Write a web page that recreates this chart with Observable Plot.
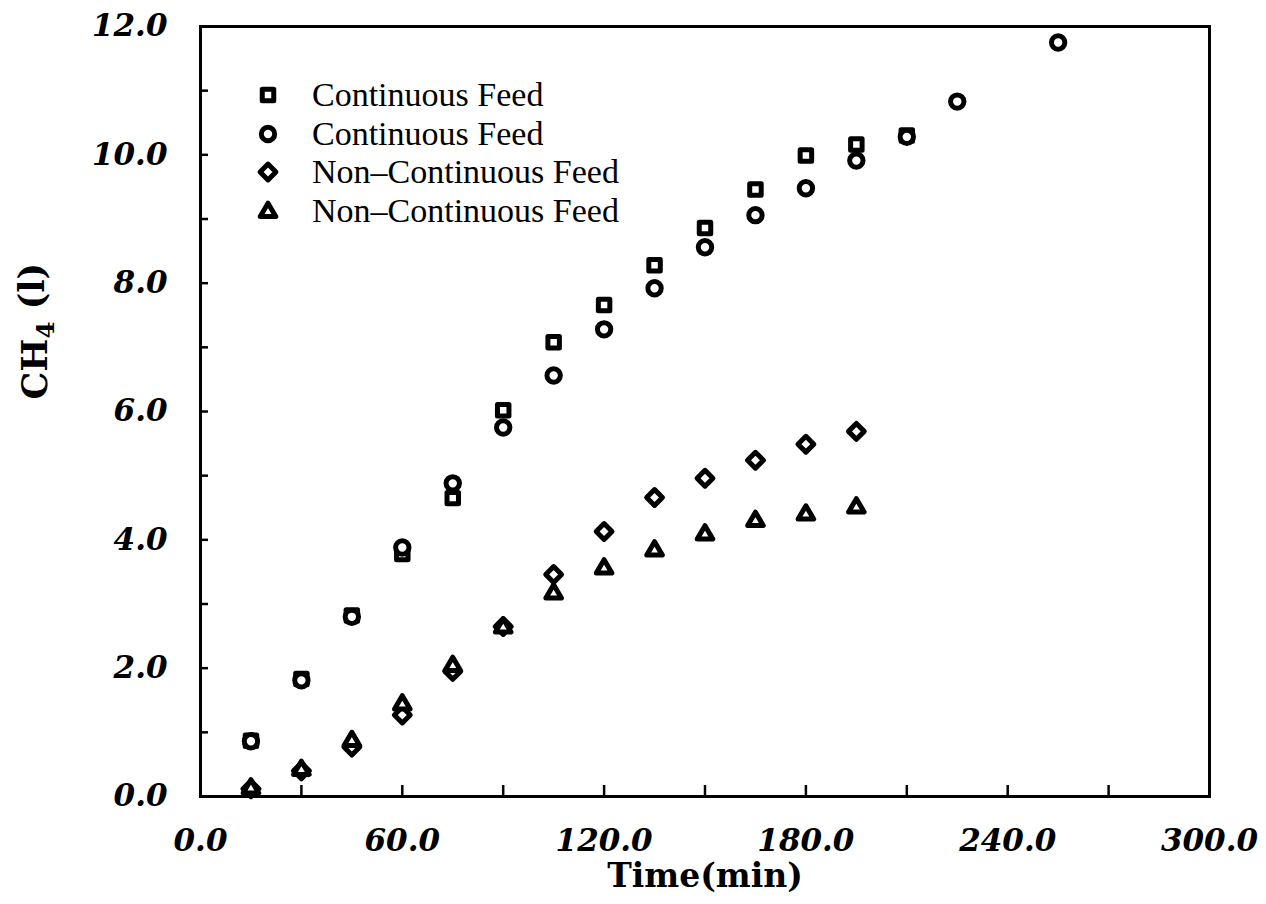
<!DOCTYPE html>
<html><head><meta charset="utf-8">
<script src="https://cdn.jsdelivr.net/npm/d3@7"></script>
<script src="https://cdn.jsdelivr.net/npm/@observablehq/plot@0.6"></script>
<style>
body{margin:0;background:#fff;}
#wrap{position:relative;width:1266px;height:904px;background:#fff;}
#legend{position:absolute;left:252px;top:76px;font-family:"Liberation Serif","Times New Roman",serif;font-size:34px;color:#000;line-height:1;}
.row{display:flex;align-items:center;height:38.5px;white-space:nowrap;}
.row svg{width:32px;height:26px;margin-right:28px;flex:none;}
</style></head><body><div id="wrap"></div>
<script>
// ---- data ----
const seriesNames = ["Continuous Feed", "Continuous Feed", "Non\u2013Continuous Feed", "Non\u2013Continuous Feed"];
const squareTime = [15,30,45,60,75,90,105,120,135,150,165,180,195,210];
const squareVal  = [0.87,1.83,2.82,3.78,4.65,6.02,7.08,7.66,8.28,8.86,9.46,9.99,10.16,10.30];
const circleTime = [15,30,45,60,75,90,105,120,135,150,165,180,195,210,225,255];
const circleVal  = [0.86,1.81,2.80,3.88,4.88,5.75,6.56,7.28,7.92,8.56,9.06,9.48,9.91,10.28,10.83,11.75];
const diamondTime = [15,30,45,60,75,90,105,120,135,150,165,180,195];
const diamondVal  = [0.12,0.40,0.77,1.27,1.95,2.65,3.46,4.13,4.66,4.96,5.24,5.49,5.69];
const triangleTime = [15,30,45,60,75,90,105,120,135,150,165,180,195];
const triangleVal  = [0.14,0.43,0.88,1.45,2.05,2.65,3.18,3.57,3.85,4.10,4.31,4.41,4.52];
const xTickMinor = [30,60,90,120,150,180,210,240,270];
const xTickLabels = [0,60,120,180,240,300];
const yTickMinor = [1,2,3,4,5,6,7,8,9,10,11];
const yTickLabels = [0,2,4,6,8,10,12];
const xTitle = "Time(min)";
const yTitleMain = "CH", yTitleSub = "4", yTitleRest = " (l)";

// ---- layout ----
const W = 1266, H = 904, mL = 200, mR = 57, mT = 26, mB = 108;
const plotW = W - mL - mR, plotH = H - mT - mB;

const diamondSym = {draw(ctx, size){ const h = Math.sqrt(size) * 0.62; ctx.moveTo(0,-h); ctx.lineTo(h,0); ctx.lineTo(0,h); ctx.lineTo(-h,0); ctx.closePath(); }};
const squareSym = {draw(ctx, size){ const h = Math.sqrt(size) * 0.45; ctx.rect(-h,-h,2*h,2*h); }};
const circleSym = {draw(ctx, size){ const r = Math.sqrt(size/Math.PI) * 0.93; ctx.moveTo(r,0); ctx.arc(0,0,r,0,2*Math.PI); }};
const triSym = {draw(ctx, size){ const s = Math.sqrt(size) * 0.58; ctx.moveTo(0,-s*1.05); ctx.lineTo(s*1.05,s*0.75); ctx.lineTo(-s*1.05,s*0.75); ctx.closePath(); }};
const symbols = [squareSym, circleSym, diamondSym, triSym];

const toRows = (t, v) => t.map((d, i) => ({t: d, v: v[i]}));
const sets = [toRows(squareTime, squareVal), toRows(circleTime, circleVal), toRows(diamondTime, diamondVal), toRows(triangleTime, triangleVal)];

const tickFont = {fontFamily: "DejaVu Serif", fontStyle: "italic", fontWeight: "bold", fill: "#000"};
const R = 7.2, SW = 5;
const dotStyle = {stroke: "#000", strokeWidth: SW, fill: "#fff", r: R, strokeLinejoin: "round"};

const chart = Plot.plot({
  width: W, height: H,
  marginLeft: mL, marginRight: mR, marginTop: mT, marginBottom: mB,
  x: {domain: [0, 300], axis: null},
  y: {domain: [0, 12], axis: null},
  style: {background: "#fff", color: "#000"},
  marks: [
    Plot.frame({stroke: "#000", strokeWidth: 3}),
    Plot.tickX(xTickMinor, {x: d => d, insetTop: plotH - 11, stroke: "#000", strokeWidth: 2.5}),
    Plot.tickY(yTickMinor, {y: d => d, insetRight: plotW - 8, stroke: "#000", strokeWidth: 2.5}),
    Plot.text(xTickLabels, {x: d => d, text: d => d.toFixed(1), frameAnchor: "bottom", dy: 45, fontSize: 31, lineAnchor: "middle", ...tickFont}),
    Plot.text(yTickLabels, {y: d => d, text: d => d.toFixed(1), frameAnchor: "left", dx: -33, textAnchor: "end", fontSize: 31, lineAnchor: "middle", ...tickFont}),
    Plot.text([xTitle], {frameAnchor: "bottom", dy: 80, fontSize: 33, fontWeight: "bold", fontFamily: "DejaVu Serif", lineAnchor: "middle", fill: "#000"}),
    Plot.text([yTitleMain + yTitleSub + yTitleRest], {className: "ytitle", frameAnchor: "left", dx: -165, dy: -12, rotate: -90, fontSize: 35, fontWeight: "bold", fontFamily: "DejaVu Serif", lineAnchor: "middle", fill: "#000"}),
    ...sets.map((s, i) => Plot.dot(s, {x: "t", y: "v", symbol: () => symbols[i], ...dotStyle}))
  ]
});
// subscript for the y title
const yt = d3.select(chart).select(".ytitle text");
yt.text(null);
yt.append("tspan").text(yTitleMain);
yt.append("tspan").text(yTitleSub).attr("dy", "0.3em").attr("font-size", "0.7em");
yt.append("tspan").text(yTitleRest).attr("dy", "-0.3em");
document.getElementById("wrap").appendChild(chart);

// ---- legend (HTML overlay) ----
const legend = document.createElement("div");
legend.id = "legend";
seriesNames.forEach((name, i) => {
  const row = document.createElement("div");
  row.className = "row";
  const svg = d3.create("svg").attr("viewBox", "-16 -13 32 26");
  svg.append("path").attr("d", d3.symbol(symbols[i], Math.PI * R * R)())
    .attr("fill", "#fff").attr("stroke", "#000").attr("stroke-width", SW).attr("stroke-linejoin", "round");
  row.appendChild(svg.node());
  const span = document.createElement("span");
  span.textContent = name;
  row.appendChild(span);
  legend.appendChild(row);
});
document.getElementById("wrap").appendChild(legend);
</script></body></html>
